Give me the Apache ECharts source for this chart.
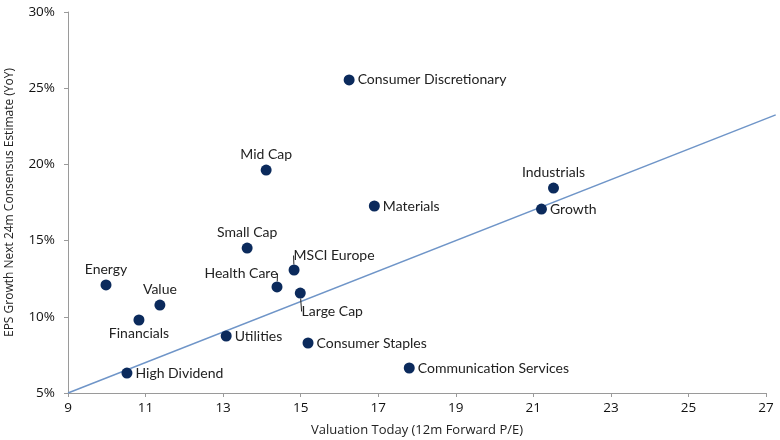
<!DOCTYPE html>
<html><head><meta charset="utf-8">
<script src="https://cdn.jsdelivr.net/npm/echarts@6/dist/echarts.min.js"></script>
<style>html,body{margin:0;padding:0;background:#fff}#c{width:780px;height:440px}</style>
</head><body><div id="c"></div>
<script>
var names = ['Consumer Discretionary','Mid Cap','Industrials','Materials','Growth','Small Cap','MSCI Europe','Energy','Health Care','Large Cap','Value','Financials','Utilities','Consumer Staples','Communication Services','High Dividend'];
var pe  = [16.25, 14.11, 21.52, 16.90, 21.21, 13.62, 14.83, 9.98, 14.39, 14.99, 11.37, 10.83, 13.08, 15.19, 17.80, 10.52];
var eps = [25.54, 19.63, 18.45, 17.27, 17.07, 14.51, 13.07, 12.09, 11.96, 11.56, 10.77, 9.79, 8.74, 8.28, 6.64, 6.31];
var labelPos = ['right','top','top','right','right','top','top','top','top','bottom','top','bottom','right','right','right','right'];
// label nudges for the three call-out labels with leader lines
var leadDx = {'MSCI Europe': 40, 'Health Care': -36, 'Large Cap': 32};
var leadDy = {'MSCI Europe': 1, 'Health Care': 2, 'Large Cap': 3};
var trendX = [9, 27.25];
var trendY = [5, 23.25];

var data = names.map(function(n, i){
  var item = {name: n, value: [pe[i], eps[i]], label: {position: labelPos[i]}};
  if (labelPos[i] === 'bottom') item.label.distance = 1;
  if (leadDx[n] !== undefined) { item.labelLine = {show: true}; item.label.distance = 3; }
  return item;
});

var hiddenAxis = {show: false, axisLine: {show: false}, axisTick: {show: false}, axisLabel: {show: false}, splitLine: {show: false}};

var chart = echarts.init(document.getElementById('c'));
chart.setOption({
  animation: false,
  grid: [
    {left: 68, right: 14, top: 12, bottom: 47, containLabel: false, outerBoundsMode: 'none'},
    {left: 68, right: 4.3, top: 12, bottom: 47, containLabel: false, outerBoundsMode: 'none'}
  ],
  xAxis: [{
    type: 'value', min: 9, max: 27, interval: 2, gridIndex: 0,
    name: 'Valuation Today (12m Forward P/E)', nameLocation: 'middle', nameGap: 31,
    nameTextStyle: {fontFamily: 'Open Sans', fontSize: 13, color: '#222'},
    axisLine: {show: true, lineStyle: {color: '#9a9a9a', width: 1}},
    axisTick: {show: true, length: 4, lineStyle: {color: '#9a9a9a'}},
    axisLabel: {fontFamily: 'Open Sans', fontSize: 13.5, color: '#111', margin: 8},
    splitLine: {show: false}
  }, Object.assign({type: 'value', min: trendX[0], max: trendX[1], gridIndex: 1}, hiddenAxis)],
  yAxis: [{
    type: 'value', min: 5, max: 30, interval: 5, gridIndex: 0,
    name: 'EPS Growth Next 24m Consensus Estimate (YoY)', nameLocation: 'middle', nameGap: 52,
    nameTextStyle: {fontFamily: 'Open Sans', fontSize: 12, color: '#222'},
    axisLine: {show: true, lineStyle: {color: '#9a9a9a', width: 1}},
    axisTick: {show: true, length: 4, lineStyle: {color: '#9a9a9a'}},
    axisLabel: {fontFamily: 'Open Sans', fontSize: 13.5, color: '#111', margin: 13, formatter: '{value}%'},
    splitLine: {show: false}
  }, Object.assign({type: 'value', min: 5, max: 30, gridIndex: 1}, hiddenAxis)],
  series: [
    {
      type: 'line', xAxisIndex: 1, yAxisIndex: 1,
      data: trendX.map(function(x, i){ return [x, trendY[i]]; }),
      symbol: 'none', silent: true,
      lineStyle: {color: '#6f95c8', width: 1.5}, z: 1
    },
    {
      type: 'scatter', data: data, symbolSize: 11, z: 3,
      itemStyle: {color: '#0b2a5c', opacity: 1},
      label: {show: true, formatter: '{b}', fontFamily: 'Lato', fontSize: 14, color: '#222', distance: 3},
      labelLine: {lineStyle: {color: '#222', width: 1}},
      labelLayout: function(p){
        var n = names[p.dataIndex];
        if (leadDx[n] !== undefined) return {dx: leadDx[n], dy: leadDy[n]};
        return {};
      }
    }
  ]
});
</script></body></html>
